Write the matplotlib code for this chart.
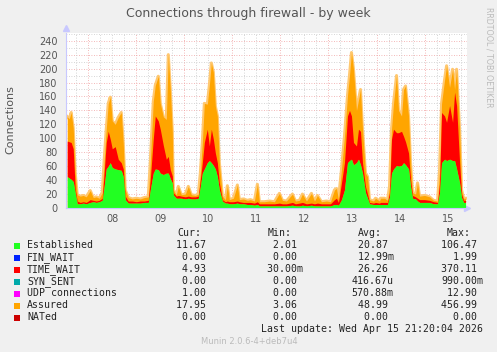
import matplotlib
matplotlib.use('Agg')
import matplotlib.pyplot as plt
import numpy as np

# time in hours since Apr 07 00:00 (one row per stretch of the week)
hours = [13.5, 14.5, 15.5, 16.5, 17.5, 18.5, 20.0, 21.5, 23.0, 25.0, 26.5, 28.0, 29.5, 31.0,
         32, 33, 34, 35, 36, 37.5, 39, 40.5, 41.5, 42.5, 44, 46, 48, 50, 52, 54,
         55, 56.5, 57.5, 59, 60, 61.5, 63, 64, 65, 66, 66.5, 68, 69, 70.5, 72.5, 74, 75.5, 77.5, 79,
         80, 81, 82, 83.5, 84.5, 85.5, 86.5, 87.5, 88.5, 89.5, 91, 92.5, 93.5, 94.5, 96.5, 98.5, 99.5, 101.5, 103.5, 105, 107, 108.5,
         109.5, 112, 114.5, 117, 119.5, 121, 123, 126, 127.5, 129.5, 131, 133, 135.5, 137, 138.5, 140.5, 143, 145, 147, 148, 149,
         150.5, 152, 153.5, 154.5, 155.5, 156.5, 158, 159, 160, 161, 162.5, 163.5, 164.5, 166.5, 167.5, 169.5, 170, 172, 173.5,
         174.5, 175.5, 176.5, 178, 179, 180.5, 181.5, 182.5, 184, 185, 186, 187.5, 188.5, 189.5, 192, 194.5, 196.5, 198.5,
         199.5, 200.5, 202, 203, 204.5, 206, 207, 208, 209.5, 210.5, 211.5, 212.5]

established = [45, 43, 41, 38, 22, 6, 6, 7, 6, 8, 9, 8, 9, 11,
               32, 56, 60, 65, 58, 56, 55, 54, 45, 12, 7, 7, 7, 7, 8, 8,
               26, 50, 56, 55, 50, 48, 50, 50, 42, 36, 19, 14, 14, 14, 13, 14, 13, 13, 14,
               31, 50, 56, 65, 68, 65, 61, 56, 45, 26, 10, 7, 7, 6, 6, 7, 6, 6, 5, 5, 4, 5,
               3, 3, 3, 3, 3, 3, 3, 4, 3, 3, 4, 3, 4, 3, 3, 3, 3, 3, 5, 5, 4,
               12, 26, 65, 68, 70, 62, 65, 70, 62, 50, 22, 14, 6, 5, 5, 5, 5, 5, 5,
               16, 50, 56, 61, 60, 61, 65, 62, 56, 31, 14, 13, 10, 8, 8, 8, 6, 6,
               22, 65, 70, 68, 70, 68, 68, 56, 36, 15, 8, 8]

time_wait = [51, 52, 53, 47, 6, 4, 2, 2, 2, 4, 2, 2, 2, 3,
             20, 38, 50, 34, 27, 32, 15, 11, 11, 5, 3, 3, 2, 3, 2, 3,
             15, 49, 76, 70, 63, 42, 20, 24, 13, 10, 3, 3, 4, 3, 3, 3, 3, 3, 3,
             10, 15, 38, 48, 21, 48, 38, 23, 20, 10, 2, 2, 3, 3, 3, 3, 3, 2, 3, 3, 3, 4,
             3, 3, 3, 3, 4, 3, 3, 4, 3, 4, 4, 3, 3, 3, 4, 3, 3, 3, 7, 9, 4,
             24, 39, 67, 72, 62, 32, 24, 43, 48, 15, 9, 6, 2, 2, 3, 2, 3, 3, 3,
             6, 49, 57, 47, 48, 49, 38, 33, 23, 10, 4, 3, 4, 4, 4, 3, 3, 2,
             14, 72, 62, 55, 77, 55, 98, 91, 29, 5, 3, 3]

assured = [131, 128, 137, 115, 50, 19, 17, 18, 16, 25, 15, 16, 14, 22,
           70, 113, 150, 159, 125, 120, 130, 137, 93, 26, 15, 13, 14, 13, 15, 16,
           65, 153, 176, 189, 150, 131, 127, 220, 170, 110, 26, 19, 31, 19, 20, 31, 19, 18, 20,
           50, 94, 150, 149, 176, 208, 195, 146, 132, 65, 17, 12, 32, 12, 14, 33, 12, 13, 11, 12, 10, 34,
           9, 9, 10, 9, 21, 11, 10, 20, 10, 11, 20, 10, 21, 10, 18, 9, 10, 9, 26, 28, 12,
           55, 103, 161, 190, 223, 199, 140, 155, 170, 113, 50, 45, 12, 10, 14, 10, 14, 14, 11,
           31, 113, 150, 190, 140, 132, 170, 175, 132, 65, 22, 20, 36, 17, 18, 16, 11, 10,
           55, 150, 184, 204, 173, 199, 170, 199, 113, 26, 14, 14]

day_labels = ['08', '09', '10', '11', '12', '13', '14', '15']

legend_names = ['Established', 'FIN_WAIT', 'TIME_WAIT', 'SYN_SENT', 'UDP connections', 'Assured', 'NATed']
legend_colors = ['#22ff22', '#0022ff', '#ff0000', '#00aaaa', '#ff00ff', '#ffa500', '#cc0000']
cur_vals = ['11.67 ', ' 0.00 ', ' 4.93 ', ' 0.00 ', ' 1.00 ', '17.95 ', ' 0.00 ']
min_vals = ['  2.01 ', '  0.00 ', ' 30.00m', '  0.00 ', '  0.00 ', '  3.06 ', '  0.00 ']
avg_vals = [' 20.87 ', ' 12.99m', ' 26.26 ', '416.67u', '570.88m', ' 48.99 ', '  0.00 ']
max_vals = ['106.47 ', '  1.99 ', '370.11 ', '990.00m', ' 12.90 ', '456.99 ', '  0.00 ']

t = np.array(hours)
est = np.array(established)
tw = np.array(time_wait)
asr = np.array(assured)

fig = plt.figure(figsize=(4.97, 3.52), dpi=100, facecolor='#f0f0f0')
ax = fig.add_axes([66/497, 1 - 208/352, 401/497, 175/352])
ax.set_facecolor('white')

# lighter halo round the assured curve, then the areas
ax.plot(t, asr, color='#ffc870', lw=2.2, zorder=1.9)
ax.fill_between(t, 0, asr, color='#ffa500', lw=0, zorder=2)
ax.fill_between(t, est, est + tw, color='#ff0000', lw=0, zorder=3)
ax.fill_between(t, 0, est, color='#22ff22', lw=0, zorder=4)

ax.set_xlim(12.9, 213.2)
ax.set_ylim(0, 251)

# grid (behind the areas)
for y in range(10, 251, 10):
    if y % 20 == 0:
        ax.axhline(y, color='#f0a0a0', lw=0.6, ls=(0, (1, 2)), zorder=1)
    else:
        ax.axhline(y, color='#c8c8c8', lw=0.6, ls=(0, (1, 2)), zorder=1)
for h in range(18, 213, 6):
    if h % 24 == 0:
        ax.axvline(h, color='#f0a0a0', lw=0.6, ls=(0, (1, 2)), zorder=1)
    else:
        ax.axvline(h, color='#c8c8c8', lw=0.6, ls=(0, (1, 2)), zorder=1)

ax.set_yticks(range(0, 241, 20))
ax.set_xticks([36 + 24 * k for k in range(len(day_labels))])
ax.set_xticklabels(day_labels)
ax.tick_params(axis='both', labelsize=7, colors='#555555', length=0, pad=4)
ax.tick_params(axis='y', pad=6)

for s in ['top', 'right']:
    ax.spines[s].set_visible(False)
ax.spines['left'].set_color('#c8c8ff')
ax.spines['bottom'].set_color('#c8c8ff')
ax.spines['left'].set_zorder(6)
ax.spines['bottom'].set_zorder(6)
ax.plot(1.0, 0, '>', transform=ax.transAxes, clip_on=False, color='#c8c8ff', ms=4)
ax.plot(0, 1.03, '^', transform=ax.transAxes, clip_on=False, color='#c8c8ff', ms=4)

fig.text(248/497, 1 - 13/352, 'Connections through firewall - by week', ha='center', va='center',
         fontsize=9, color='#555555')
fig.text(10/497, 1 - 120/352, 'Connections', rotation=90, ha='center', va='center',
         fontsize=8, color='#555555')
fig.text(489/497, 1 - 57/352, 'RRDTOOL / TOBI OETIKER', rotation=270, ha='center', va='center',
         fontsize=5.7, color='#bbbbbb')

mono = 'DejaVu Sans Mono'
fs = 7.1
fig.text(177/497, 1 - 233/352, 'Cur:', fontsize=fs, family=mono, color='#222222', va='center')
fig.text(268/497, 1 - 233/352, 'Min:', fontsize=fs, family=mono, color='#222222', va='center')
fig.text(358/497, 1 - 233/352, 'Avg:', fontsize=fs, family=mono, color='#222222', va='center')
fig.text(447/497, 1 - 233/352, 'Max:', fontsize=fs, family=mono, color='#222222', va='center')
for i, name in enumerate(legend_names):
    y = 1 - (245.5 + 12 * i) / 352
    fig.patches.append(plt.Rectangle((14/497, y - 3/352), 6/497, 6/352, transform=fig.transFigure,
                                     facecolor=legend_colors[i], edgecolor='none'))
    fig.text(27/497, y, name, fontsize=fs, family=mono, color='#222222', va='center')
    fig.text(212/497, y, cur_vals[i], fontsize=fs, family=mono, color='#222222', va='center', ha='right')
    fig.text(303/497, y, min_vals[i], fontsize=fs, family=mono, color='#222222', va='center', ha='right')
    fig.text(393.5/497, y, avg_vals[i], fontsize=fs, family=mono, color='#222222', va='center', ha='right')
    fig.text(483/497, y, max_vals[i], fontsize=fs, family=mono, color='#222222', va='center', ha='right')

fig.text(483/497, 1 - 329.5/352, 'Last update: Wed Apr 15 21:20:04 2026', fontsize=fs, family=mono,
         color='#222222', va='center', ha='right')
fig.text(249/497, 1 - 341.5/352, 'Munin 2.0.6-4+deb7u4', fontsize=6, color='#bbbbbb',
         va='center', ha='center')

fig.savefig('out.png', dpi=100, facecolor=fig.get_facecolor())
